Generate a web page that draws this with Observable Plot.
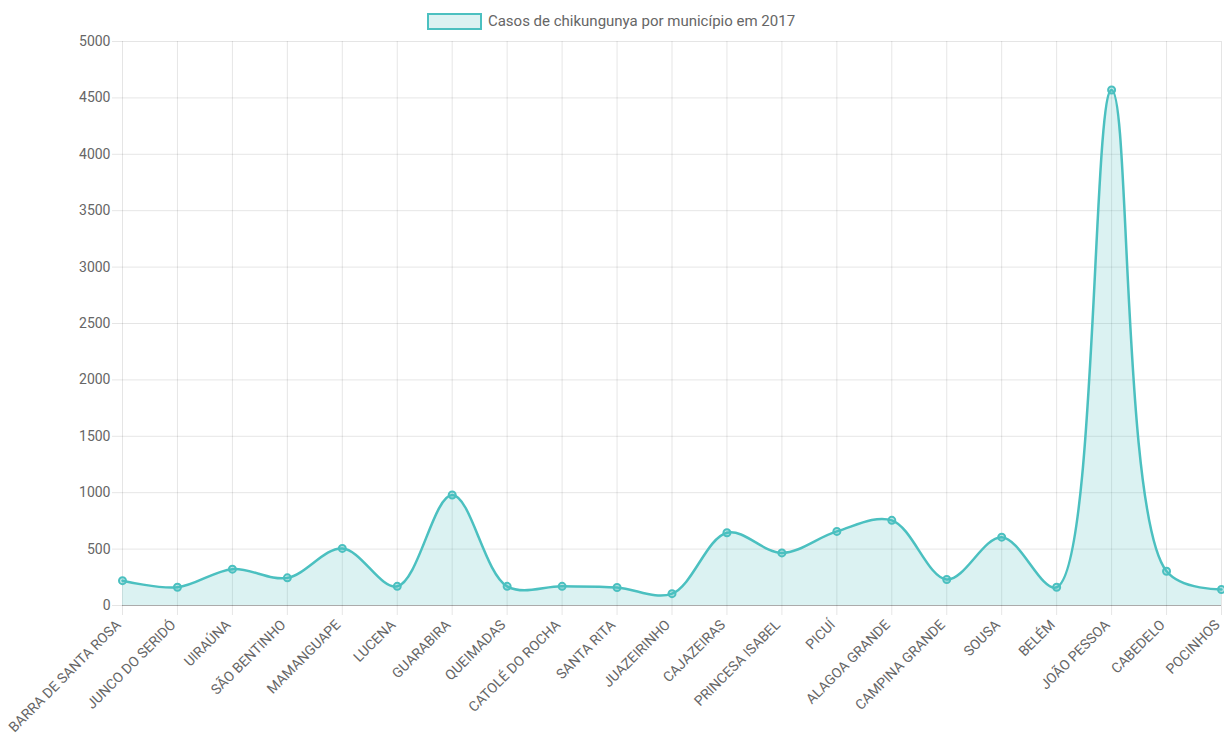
<!DOCTYPE html>
<html>
<head>
<meta charset="utf-8">
<script src="https://cdn.jsdelivr.net/npm/d3@7"></script>
<script src="https://cdn.jsdelivr.net/npm/@observablehq/plot@0.6"></script>
<style>
  html, body { margin: 0; padding: 0; background: #fff; }
  body { width: 1224px; height: 745px; overflow: hidden; font-family: Roboto, sans-serif; }
  #legend { height: 30px; display: flex; justify-content: center; align-items: center; padding-top: 12px; padding-right: 2px; box-sizing: border-box; color: #666; font-size: 15px; }
  #legend .box { width: 51px; height: 13px; background: rgba(75,192,192,0.2); border: 2px solid rgb(75,192,192); margin-right: 6px; }
  #legend span.t { line-height: 16px; }
  #chart svg { display: block; overflow: visible; }
</style>
</head>
<body>
<div id="legend"><span class="box"></span><span class="t">Casos de chikungunya por município em 2017</span></div>
<div id="chart"></div>
<script>
const municipios = [
  "BARRA DE SANTA ROSA", "JUNCO DO SERIDÓ", "UIRAÚNA", "SÃO BENTINHO", "MAMANGUAPE",
  "LUCENA", "GUARABIRA", "QUEIMADAS", "CATOLÉ DO ROCHA", "SANTA RITA", "JUAZEIRINHO",
  "CAJAZEIRAS", "PRINCESA ISABEL", "PICUÍ", "ALAGOA GRANDE", "CAMPINA GRANDE",
  "SOUSA", "BELÉM", "JOÃO PESSOA", "CABEDELO", "POCINHOS"
];
const casos = [
  220, 162, 322, 245, 506,
  170, 980, 170, 170, 160, 105,
  645, 466, 657, 755, 231,
  606, 162, 4570, 304, 142
];
const yTicks = [0, 500, 1000, 1500, 2000, 2500, 3000, 3500, 4000, 4500, 5000];

const data = municipios.map((m, i) => ({municipio: m, casos: casos[i]}));
const teal = "rgb(75,192,192)";
const gridColor = "rgba(0,0,0,0.1)";

const chart = Plot.plot({
  width: 1224,
  height: 715,
  marginLeft: 122,
  marginRight: 3,
  marginTop: 11,
  marginBottom: 140,
  style: {fontFamily: "Roboto, sans-serif", fontSize: "14px", color: "#666", background: "#fff"},
  x: {type: "point", domain: municipios, padding: 0, round: false, label: null},
  y: {domain: [0, 5000], label: null},
  marks: [
    Plot.gridX(municipios, {stroke: gridColor, strokeOpacity: 1}),
    Plot.gridY(yTicks, {stroke: gridColor, strokeOpacity: 1}),
    Plot.areaY(data, {x: "municipio", y: "casos", curve: "catmull-rom", fill: "rgba(75,192,192,0.2)"}),
    Plot.lineY(data, {x: "municipio", y: "casos", curve: "catmull-rom", stroke: teal, strokeWidth: 2.5}),
    Plot.dot(data, {x: "municipio", y: "casos", r: 3.5, fill: "rgba(75,192,192,0.35)", stroke: teal, strokeWidth: 2}),
    Plot.ruleY([0], {stroke: "rgba(0,0,0,0.25)"}),
    Plot.axisY({ticks: yTicks, tickFormat: d3.format("d"), tickSize: 10, tickPadding: 2, stroke: gridColor, strokeOpacity: 1, fill: "#666", fontSize: 14, label: null}),
    Plot.axisX({tickSize: 10, tickFormat: () => "", stroke: gridColor, strokeOpacity: 1, label: null}),
    Plot.axisX({tickSize: 0, tickPadding: 12, tickRotate: -45, dx: -4, dy: 5, fill: "#666", fontSize: 14, label: null})
  ]
});
document.getElementById("chart").appendChild(chart);
</script>
</body>
</html>
